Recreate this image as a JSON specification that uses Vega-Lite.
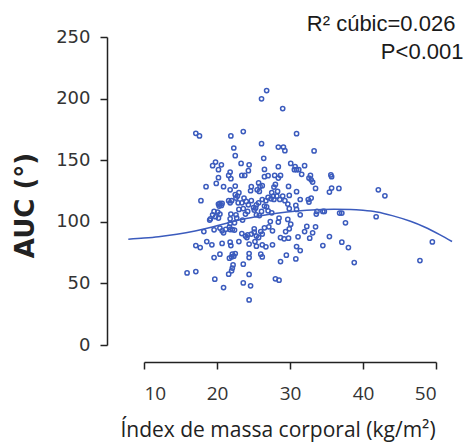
{
  "$schema": "https://vega.github.io/schema/vega-lite/v6.json",
  "width": 292,
  "height": 308,
  "autosize": {"type": "none"},
  "padding": {"left": 144, "top": 37, "right": 31, "bottom": 98},
  "background": "white",
  "config": {
    "view": {"stroke": null},
    "axis": {"grid": false, "domainColor": "#222", "tickColor": "#222", "domainWidth": 1.5, "tickWidth": 1.5, "labelColor": "#333", "titleColor": "#222"}
  },
  "datasets": {
    "points": [
      {"bmi":26.1,"auc":199.8},{"bmi":17.1,"auc":171.8},{"bmi":17.6,"auc":169.7},{"bmi":21.9,"auc":169.7},{"bmi":23.6,"auc":173.2},
      {"bmi":22.3,"auc":159.9},{"bmi":22.5,"auc":153.7},{"bmi":26.1,"auc":163.4},{"bmi":26.4,"auc":151.5},{"bmi":19.8,"auc":148.5},
      {"bmi":19.4,"auc":145.5},{"bmi":20.6,"auc":146.3},{"bmi":23.3,"auc":147.4},{"bmi":24.4,"auc":146.3},{"bmi":24.3,"auc":141.5},
      {"bmi":26.5,"auc":142.5},{"bmi":20.2,"auc":142.3},{"bmi":21.8,"auc":140.4},{"bmi":21.6,"auc":137.6},{"bmi":21.9,"auc":135.0},
      {"bmi":23.4,"auc":137.6},{"bmi":23.8,"auc":137.6},{"bmi":20.2,"auc":135.8},{"bmi":26.5,"auc":136.6},{"bmi":19.9,"auc":131.1},
      {"bmi":18.5,"auc":128.5},{"bmi":20.9,"auc":128.5},{"bmi":22.5,"auc":129.0},{"bmi":21.8,"auc":126.0},{"bmi":24.7,"auc":128.5},
      {"bmi":24.6,"auc":125.2},{"bmi":25.7,"auc":131.5},{"bmi":25.9,"auc":128.7},{"bmi":25.5,"auc":126.0},{"bmi":25.8,"auc":124.6},
      {"bmi":26.2,"auc":129.3},{"bmi":23.0,"auc":123.6},{"bmi":26.8,"auc":206.5},{"bmi":29.0,"auc":191.9},{"bmi":30.9,"auc":171.5},
      {"bmi":28.4,"auc":160.7},{"bmi":29.1,"auc":160.7},{"bmi":29.3,"auc":157.7},{"bmi":33.3,"auc":157.5},{"bmi":28.4,"auc":144.7},
      {"bmi":30.1,"auc":147.4},{"bmi":30.7,"auc":144.7},{"bmi":30.6,"auc":142.3},{"bmi":30.9,"auc":142.3},{"bmi":31.2,"auc":142.3},
      {"bmi":32.0,"auc":145.5},{"bmi":31.6,"auc":138.5},{"bmi":27.0,"auc":137.4},{"bmi":27.9,"auc":137.6},{"bmi":28.4,"auc":135.5},
      {"bmi":28.7,"auc":137.6},{"bmi":32.6,"auc":135.5},{"bmi":32.8,"auc":137.6},{"bmi":32.9,"auc":134.1},{"bmi":33.1,"auc":132.3},
      {"bmi":35.6,"auc":138.0},{"bmi":35.7,"auc":136.6},{"bmi":28.0,"auc":130.3},{"bmi":27.8,"auc":128.2},{"bmi":29.8,"auc":128.7},
      {"bmi":33.5,"auc":127.1},{"bmi":35.7,"auc":127.4},{"bmi":36.7,"auc":127.1},{"bmi":35.4,"auc":124.1},{"bmi":27.5,"auc":123.6},
      {"bmi":28.3,"auc":124.6},{"bmi":30.9,"auc":124.4},{"bmi":17.8,"auc":117.1},{"bmi":20.2,"auc":114.4},{"bmi":20.4,"auc":114.9},
      {"bmi":20.7,"auc":114.9},{"bmi":20.3,"auc":112.8},{"bmi":20.6,"auc":113.3},{"bmi":21.6,"auc":117.1},{"bmi":21.8,"auc":115.4},
      {"bmi":22.0,"auc":117.1},{"bmi":22.6,"auc":119.3},{"bmi":22.8,"auc":120.9},{"bmi":22.5,"auc":122.0},{"bmi":22.9,"auc":115.4},
      {"bmi":23.4,"auc":115.4},{"bmi":23.7,"auc":119.3},{"bmi":24.0,"auc":116.5},{"bmi":24.3,"auc":113.8},{"bmi":24.7,"auc":117.1},
      {"bmi":25.0,"auc":111.6},{"bmi":25.4,"auc":113.8},{"bmi":25.3,"auc":111.1},{"bmi":25.7,"auc":115.4},{"bmi":26.2,"auc":118.1},
      {"bmi":26.5,"auc":112.8},{"bmi":26.1,"auc":108.4},{"bmi":19.6,"auc":108.4},{"bmi":20.1,"auc":107.9},{"bmi":20.4,"auc":106.3},
      {"bmi":19.4,"auc":105.7},{"bmi":19.8,"auc":104.1},{"bmi":20.2,"auc":103.0},{"bmi":19.1,"auc":102.4},{"bmi":19.0,"auc":101.4},
      {"bmi":21.9,"auc":106.3},{"bmi":21.8,"auc":102.4},{"bmi":22.6,"auc":105.7},{"bmi":22.7,"auc":103.0},{"bmi":23.0,"auc":110.0},
      {"bmi":23.6,"auc":110.6},{"bmi":23.9,"auc":106.3},{"bmi":24.2,"auc":108.4},{"bmi":25.1,"auc":109.5},{"bmi":25.4,"auc":105.7},
      {"bmi":25.8,"auc":105.1},{"bmi":23.5,"auc":101.4},{"bmi":22.4,"auc":99.2},{"bmi":21.8,"auc":98.6},{"bmi":21.7,"auc":95.7},
      {"bmi":18.2,"auc":92.1},{"bmi":19.6,"auc":93.5},{"bmi":20.4,"auc":94.9},{"bmi":20.7,"auc":92.7},{"bmi":20.9,"auc":91.1},
      {"bmi":21.2,"auc":93.9},{"bmi":21.8,"auc":93.7},{"bmi":22.1,"auc":93.7},{"bmi":22.4,"auc":93.3},{"bmi":23.4,"auc":90.5},
      {"bmi":23.9,"auc":88.4},{"bmi":24.2,"auc":89.4},{"bmi":24.1,"auc":87.2},{"bmi":24.7,"auc":90.0},{"bmi":25.1,"auc":91.6},
      {"bmi":25.1,"auc":94.3},{"bmi":25.4,"auc":88.4},{"bmi":25.7,"auc":87.2},{"bmi":26.0,"auc":92.1},{"bmi":26.5,"auc":95.1},
      {"bmi":26.2,"auc":90.0},{"bmi":17.1,"auc":80.7},{"bmi":17.7,"auc":79.1},{"bmi":18.6,"auc":84.0},{"bmi":19.3,"auc":81.3},
      {"bmi":20.7,"auc":82.4},{"bmi":21.8,"auc":83.5},{"bmi":21.9,"auc":80.7},{"bmi":23.0,"auc":84.0},{"bmi":24.4,"auc":81.9},
      {"bmi":25.2,"auc":84.0},{"bmi":25.4,"auc":80.2},{"bmi":26.2,"auc":81.3},{"bmi":19.6,"auc":71.0},{"bmi":20.4,"auc":73.7},
      {"bmi":21.7,"auc":70.5},{"bmi":22.1,"auc":73.7},{"bmi":22.3,"auc":72.1},{"bmi":22.5,"auc":74.2},{"bmi":22.0,"auc":71.5},
      {"bmi":24.4,"auc":74.2},{"bmi":24.4,"auc":71.0},{"bmi":26.0,"auc":73.7},{"bmi":26.2,"auc":71.5},{"bmi":23.6,"auc":65.6},
      {"bmi":22.2,"auc":65.0},{"bmi":22.1,"auc":62.4},{"bmi":22.0,"auc":60.2},{"bmi":15.9,"auc":58.5},{"bmi":17.1,"auc":59.6},
      {"bmi":24.4,"auc":57.3},{"bmi":21.6,"auc":57.5},{"bmi":19.7,"auc":53.4},{"bmi":23.6,"auc":50.4},{"bmi":24.6,"auc":48.0},
      {"bmi":20.9,"auc":46.6},{"bmi":24.4,"auc":36.6},{"bmi":26.7,"auc":117.1},{"bmi":27.0,"auc":119.8},{"bmi":27.4,"auc":118.7},
      {"bmi":27.7,"auc":120.9},{"bmi":27.8,"auc":118.1},{"bmi":28.2,"auc":120.9},{"bmi":28.6,"auc":118.1},{"bmi":29.0,"auc":120.9},
      {"bmi":29.3,"auc":117.1},{"bmi":29.9,"auc":121.4},{"bmi":31.4,"auc":118.1},{"bmi":32.5,"auc":118.1},{"bmi":32.9,"auc":119.3},
      {"bmi":32.6,"auc":116.0},{"bmi":26.8,"auc":112.2},{"bmi":27.0,"auc":108.9},{"bmi":27.5,"auc":107.3},{"bmi":29.7,"auc":114.4},
      {"bmi":29.9,"auc":110.6},{"bmi":30.8,"auc":113.3},{"bmi":30.9,"auc":110.0},{"bmi":31.4,"auc":105.7},{"bmi":33.7,"auc":108.4},
      {"bmi":33.6,"auc":106.3},{"bmi":34.5,"auc":108.4},{"bmi":34.7,"auc":108.4},{"bmi":36.8,"auc":107.1},{"bmi":37.1,"auc":107.1},
      {"bmi":37.6,"auc":99.2},{"bmi":27.3,"auc":100.2},{"bmi":28.5,"auc":103.0},{"bmi":28.4,"auc":99.8},{"bmi":29.7,"auc":101.9},
      {"bmi":30.1,"auc":98.1},{"bmi":29.9,"auc":94.3},{"bmi":29.4,"auc":92.1},{"bmi":27.1,"auc":95.9},{"bmi":27.6,"auc":92.7},
      {"bmi":32.3,"auc":96.2},{"bmi":33.5,"auc":95.9},{"bmi":32.0,"auc":92.1},{"bmi":33.1,"auc":91.1},{"bmi":28.7,"auc":87.2},
      {"bmi":29.2,"auc":86.2},{"bmi":29.8,"auc":86.7},{"bmi":31.1,"auc":87.8},{"bmi":32.7,"auc":86.7},{"bmi":35.4,"auc":88.0},
      {"bmi":26.7,"auc":79.7},{"bmi":27.6,"auc":81.3},{"bmi":30.9,"auc":79.9},{"bmi":31.4,"auc":76.7},{"bmi":34.5,"auc":80.7},
      {"bmi":37.1,"auc":83.5},{"bmi":38.0,"auc":79.1},{"bmi":29.5,"auc":72.9},{"bmi":30.8,"auc":69.9},{"bmi":28.7,"auc":67.7},
      {"bmi":38.8,"auc":66.9},{"bmi":28.0,"auc":53.7},{"bmi":28.5,"auc":52.6},{"bmi":42.1,"auc":126.0},{"bmi":43.0,"auc":121.1},
      {"bmi":41.8,"auc":104.1},{"bmi":47.8,"auc":68.5},{"bmi":49.5,"auc":83.7}
    ],
    "fit": [
      {"bmi":7.85,"auc":85.9},{"bmi":10,"auc":86.8},{"bmi":12,"auc":87.9},{"bmi":14.5,"auc":89.9},{"bmi":17,"auc":92.6},
      {"bmi":19.5,"auc":96.0},{"bmi":21.8,"auc":99.6},{"bmi":24,"auc":102.6},{"bmi":26,"auc":105.0},{"bmi":28.2,"auc":107.0},
      {"bmi":31,"auc":108.8},{"bmi":33.7,"auc":109.8},{"bmi":36,"auc":110.2},{"bmi":38.3,"auc":110.0},{"bmi":40,"auc":109.3},
      {"bmi":41.9,"auc":107.9},{"bmi":44,"auc":105.0},{"bmi":46.5,"auc":100.4},{"bmi":48.5,"auc":95.6},{"bmi":50.5,"auc":89.6},
      {"bmi":52.2,"auc":84.0}
    ]
  },
  "layer": [
    {
      "data": {"name": "points"},
      "mark": {"type": "point", "filled": false, "size": 18, "strokeWidth": 1.5, "color": "#3B5BBD", "opacity": 1},
      "encoding": {
        "x": {
          "field": "bmi", "type": "quantitative",
          "scale": {"domain": [10, 50], "nice": false, "zero": false},
          "axis": {
            "values": [10, 20, 30, 40, 50], "offset": 17, "tickSize": 7, "labelPadding": 15,
            "labelFont": "Open Sans", "labelFontSize": 19,
            "title": "Índex de massa corporal (kg/m²)", "titleFont": "Open Sans", "titleFontSize": 21, "titleFontWeight": "normal",
            "titleX": 133.5, "titleY": 74, "titleBaseline": "alphabetic", "titleAlign": "center"
          }
        },
        "y": {
          "field": "auc", "type": "quantitative",
          "scale": {"domain": [0, 250], "nice": false},
          "axis": {
            "values": [0, 50, 100, 150, 200, 250], "offset": 37, "tickSize": 7, "labelPadding": 10,
            "labelFont": "DejaVu Sans", "labelFontSize": 18,
            "title": "AUC (°)", "titleFont": "DejaVu Sans", "titleFontSize": 26, "titleFontWeight": "bold",
            "titleX": -73.7, "titleY": 168, "titleBaseline": "alphabetic", "titleAlign": "center", "titleAngle": -90
          }
        }
      }
    },
    {
      "data": {"name": "fit"},
      "mark": {"type": "line", "color": "#3B5BBD", "strokeWidth": 1.5, "interpolate": "monotone"},
      "encoding": {
        "x": {"field": "bmi", "type": "quantitative"},
        "y": {"field": "auc", "type": "quantitative"}
      }
    },
    {
      "data": {"values": [{"label": "R² cúbic=0.026"}]},
      "mark": {"type": "text", "align": "right", "baseline": "alphabetic", "font": "Liberation Sans", "fontSize": 22, "color": "#1a1a1a"},
      "encoding": {
        "x": {"datum": 52.66, "type": "quantitative"},
        "y": {"datum": 254.7, "type": "quantitative"},
        "text": {"field": "label"}
      }
    },
    {
      "data": {"values": [{"label": "P<0.001"}]},
      "mark": {"type": "text", "align": "right", "baseline": "alphabetic", "font": "Liberation Sans", "fontSize": 22, "color": "#1a1a1a"},
      "encoding": {
        "x": {"datum": 53.76, "type": "quantitative"},
        "y": {"datum": 232.5, "type": "quantitative"},
        "text": {"field": "label"}
      }
    }
  ]
}
